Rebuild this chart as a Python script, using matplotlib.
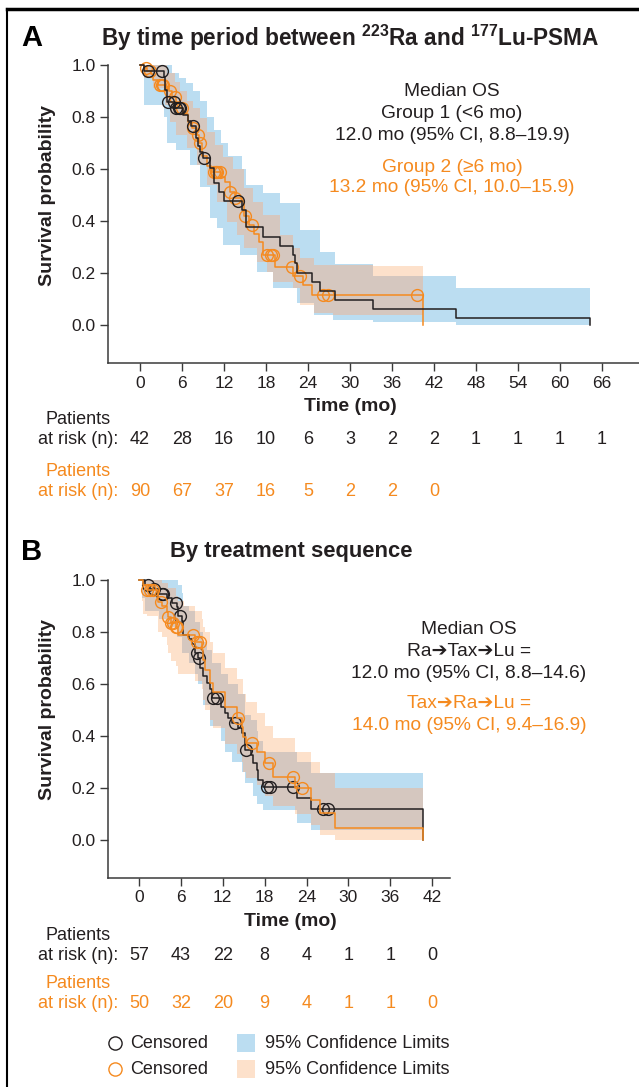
import numpy as np
import matplotlib
matplotlib.use('Agg')
import matplotlib.pyplot as plt
from matplotlib.lines import Line2D
from matplotlib.patches import Rectangle
import matplotlib.transforms as mtrans

plt.rcParams['font.family'] = ['Liberation Sans', 'DejaVu Sans']
plt.rcParams['mathtext.fontset'] = 'custom'
plt.rcParams['mathtext.rm'] = 'Liberation Sans'
plt.rcParams['mathtext.bf'] = 'Liberation Sans:bold'

BLACK = '#231F20'
ORANGE = '#F58A1F'
BLUE = '#BBDDF1'
PEACH = '#FDE1CB'
OVERLAP = '#D5C7BF'
AXC = '#3A3A3A'

# ---------------- Panel A data ----------------
a_ticks = [0, 6, 12, 18, 24, 30, 36, 42, 48, 54, 60, 66]
a_risk1 = [42, 28, 16, 10, 6, 3, 2, 2, 1, 1, 1, 1]
a_risk2 = [90, 67, 37, 16, 5, 2, 2, 0]

a1_t = [0.6, 3.4, 3.6, 3.8, 4.95, 6.1, 6.8, 7.3, 8.0, 8.3, 8.6, 9.0, 10.0, 10.5, 11.3, 12.0,
        14.5, 15.1, 17.5, 20.0, 21.9, 22.2, 22.4, 24.5, 25.7, 27.9, 33.3, 45.2, 64.3]
a1_s = [0.976, 0.952, 0.905, 0.857, 0.833, 0.808, 0.783, 0.767, 0.72, 0.69, 0.665, 0.641, 0.603,
        0.545, 0.513, 0.478, 0.442, 0.376, 0.340, 0.305, 0.269, 0.237, 0.199, 0.167, 0.131,
        0.096, 0.0615, 0.026, 0.0]
a1_cens = [1.2, 3.2, 4.05, 4.8, 5.1, 5.5, 5.7, 7.5, 9.1, 14.05]

a2_t = [0.5, 1.0, 1.5, 1.9, 2.5, 3.5, 4.1, 4.6, 5.2, 5.7, 6.2, 6.8, 7.4, 8.1, 8.4, 8.8, 9.5,
        10.2, 11.6, 12.1, 12.9, 13.5, 14.5, 14.8, 15.5, 16.3, 17.0, 17.6, 19.3, 21.8, 23.3,
        24.5, 40.4]
a2_s = [0.989, 0.978, 0.967, 0.944, 0.922, 0.911, 0.90, 0.878, 0.856, 0.833, 0.811, 0.78,
        0.756, 0.73, 0.70, 0.65, 0.61, 0.59, 0.57, 0.55, 0.51, 0.49, 0.475, 0.42, 0.385, 0.35,
        0.32, 0.27, 0.225, 0.19, 0.154, 0.115, 0.0]
a2_cens = [0.8, 1.4, 2.8, 3.1, 3.3, 4.3, 5.0, 5.95, 7.6, 8.3, 8.6, 10.5, 10.9, 11.05, 11.4,
           12.9, 13.6, 15.0, 15.95, 18.1, 18.7, 18.95, 21.7, 22.9, 26.1, 26.8, 39.6]

a1_ci_t = [0.5, 3.4, 3.8, 4.5, 5.2, 5.5, 6.5, 7.1, 7.5, 8.5, 8.6, 9.5, 10.0, 10.5, 10.95, 11.5,
           11.9, 12.5, 14.3, 14.5, 15.1, 16.7, 17.5, 19.0, 20.0, 22.4, 22.9, 24.8, 25.7, 27.6,
           27.9, 33.3, 45.2, 64.3]
a1_ci_lo = [0.846, 0.80, 0.70, 0.70, 0.673, 0.673, 0.673, 0.615, 0.615, 0.615, 0.532, 0.532,
            0.41, 0.41, 0.372, 0.372, 0.308, 0.308, 0.269, 0.269, 0.269, 0.205, 0.205, 0.141,
            0.141, 0.083, 0.083, 0.038, 0.038, 0.019, 0.019, 0.013, 0.0, 0.0]
a1_ci_hi = [1.0, 1.0, 1.0, 0.97, 0.97, 0.95, 0.93, 0.93, 0.90, 0.86, 0.86, 0.80, 0.80, 0.75,
            0.75, 0.70, 0.70, 0.65, 0.65, 0.60, 0.54, 0.54, 0.506, 0.506, 0.468, 0.468, 0.365,
            0.365, 0.282, 0.282, 0.233, 0.19, 0.141, 0.141]

a2_ci_t = [0.5, 1.9, 3.6, 3.8, 4.3, 5.0, 5.2, 5.7, 6.7, 7.6, 8.1, 8.6, 9.5, 10.7, 10.95, 11.9,
           12.4, 13.3, 13.8, 14.8, 16.2, 16.7, 17.6, 18.1, 19.0, 20.0, 21.9, 22.9, 24.8, 27.6,
           33.3, 40.4]
a2_ci_lo = [0.95, 0.91, 0.846, 0.846, 0.782, 0.782, 0.73, 0.73, 0.68, 0.68, 0.615, 0.615,
            0.538, 0.538, 0.474, 0.474, 0.397, 0.397, 0.346, 0.295, 0.295, 0.244, 0.244, 0.205,
            0.167, 0.167, 0.141, 0.077, 0.045, 0.038, 0.038, 0.038]
a2_ci_hi = [1.0, 1.0, 1.0, 0.97, 0.97, 0.936, 0.936, 0.90, 0.86, 0.833, 0.833, 0.795, 0.744,
            0.692, 0.692, 0.647, 0.647, 0.60, 0.60, 0.526, 0.474, 0.474, 0.423, 0.423, 0.423,
            0.346, 0.295, 0.256, 0.23, 0.23, 0.228, 0.228]

# ---------------- Panel B data ----------------
b_ticks = [0, 6, 12, 18, 24, 30, 36, 42]
b_risk1 = [57, 43, 22, 8, 4, 1, 1, 0]
b_risk2 = [50, 32, 20, 9, 4, 1, 1, 0]

b1_t = [0.9, 1.6, 2.8, 4.0, 4.7, 5.4, 5.6, 6.1, 6.35, 7.1, 7.55, 8.0, 8.5, 8.75, 9.2, 9.7,
        10.2, 10.4, 11.8, 12.3, 12.8, 13.3, 14.2, 14.7, 15.2, 16.1, 16.4, 16.9, 17.1, 17.8,
        22.6, 24.7, 40.7]
b1_s = [0.982, 0.965, 0.947, 0.93, 0.912, 0.895, 0.86, 0.842, 0.789, 0.772, 0.754, 0.72,
        0.70, 0.66, 0.63, 0.605, 0.58, 0.545, 0.513, 0.49, 0.47, 0.45, 0.43, 0.41, 0.345,
        0.325, 0.295, 0.27, 0.232, 0.205, 0.16, 0.118, 0.0]
b1_cens = [1.34, 2.15, 3.25, 3.49, 5.3, 5.87, 8.26, 8.64, 10.65, 11.22, 13.75, 15.28, 18.28,
           18.76, 22.0, 26.4, 27.1]

b2_t = [0.62, 1.1, 2.77, 3.25, 3.96, 4.2, 4.58, 5.3, 5.63, 8.0, 8.98, 9.2, 9.45, 10.17,
        10.65, 12.3, 14.0, 14.7, 14.9, 15.4, 16.86, 18.05, 19.2, 22.35, 24.7, 25.9, 28.1, 40.7]
b2_s = [0.981, 0.962, 0.917, 0.9, 0.878, 0.859, 0.836, 0.82, 0.788, 0.763, 0.731, 0.692,
        0.654, 0.603, 0.571, 0.513, 0.468, 0.436, 0.397, 0.372, 0.340, 0.295, 0.244, 0.199,
        0.154, 0.103, 0.045, 0.0]
b2_cens = [1.1, 1.58, 2.06, 3.15, 4.2, 4.58, 4.92, 5.3, 5.39, 7.69, 8.26, 8.74, 14.23, 16.24,
           18.68, 22.1, 23.3]

b1_ci_t = [0.5, 0.9, 2.8, 4.0, 5.4, 5.6, 6.1, 6.35, 7.1, 8.0, 8.5, 8.75, 9.2, 9.7, 10.2, 10.4,
           11.8, 12.3, 12.8, 13.3, 14.2, 14.7, 15.2, 16.1, 16.4, 16.9, 17.1, 17.8, 22.6, 24.7,
           40.7]
b1_ci_lo = [0.93, 0.88, 0.85, 0.82, 0.78, 0.78, 0.72, 0.72, 0.68, 0.64, 0.60, 0.60, 0.52,
            0.52, 0.44, 0.44, 0.38, 0.34, 0.34, 0.30, 0.30, 0.26, 0.22, 0.22, 0.17, 0.14, 0.14,
            0.115, 0.064, 0.038, 0.038]
b1_ci_hi = [1.0, 1.0, 1.0, 1.0, 1.0, 0.98, 0.95, 0.90, 0.88, 0.84, 0.84, 0.80, 0.76, 0.73,
            0.73, 0.68, 0.64, 0.64, 0.60, 0.60, 0.56, 0.56, 0.48, 0.46, 0.46, 0.42, 0.38, 0.34,
            0.30, 0.256, 0.256]

b2_ci_t = [0.5, 0.62, 1.1, 2.77, 3.25, 3.96, 4.2, 4.58, 5.3, 5.63, 6.5, 8.0, 8.98, 9.2, 9.45,
           10.17, 10.65, 12.3, 14.0, 14.7, 14.9, 15.4, 16.86, 18.05, 19.2, 22.35, 24.7, 25.9,
           28.1, 40.7]
b2_ci_lo = [0.92, 0.87, 0.86, 0.80, 0.78, 0.75, 0.72, 0.69, 0.67, 0.64, 0.64, 0.61, 0.58,
            0.54, 0.50, 0.46, 0.43, 0.37, 0.33, 0.30, 0.26, 0.24, 0.21, 0.17, 0.13, 0.10,
            0.058, 0.02, 0.0, 0.0]
b2_ci_hi = [1.0, 1.0, 1.0, 1.0, 0.99, 0.99, 0.97, 0.97, 0.94, 0.92, 0.90, 0.88, 0.85, 0.82,
            0.80, 0.76, 0.72, 0.66, 0.62, 0.62, 0.56, 0.53, 0.49, 0.44, 0.391, 0.34, 0.30,
            0.256, 0.199, 0.199]

# ---------------- helpers ----------------
W, H = 639, 1087
fig = plt.figure(figsize=(W / 100, H / 100), dpi=100)


def fy(y):
    return 1 - y / H


def step_at(tl, vl, x, before):
    tl = np.asarray(tl, float)
    vl = np.asarray(vl, float)
    idx = np.searchsorted(tl, x, side='right') - 1
    return np.where(idx >= 0, vl[np.clip(idx, 0, None)], before)


def band_vals(tl, vl, mids):
    v = step_at(tl, vl, mids, np.nan)
    v = np.where((mids >= tl[0]) & (mids < tl[-1]), v, np.nan)
    return v


def draw_bands(ax, b1, b2):
    grid = np.unique(np.concatenate([b1[0], b2[0]]))
    mids = (grid[:-1] + grid[1:]) / 2
    lo1, hi1 = band_vals(b1[0], b1[1], mids), band_vals(b1[0], b1[2], mids)
    lo2, hi2 = band_vals(b2[0], b2[1], mids), band_vals(b2[0], b2[2], mids)
    lo_o = np.maximum(lo1, lo2)
    hi_o = np.minimum(hi1, hi2)
    bad = ~(hi_o > lo_o)
    lo_o[bad] = np.nan
    hi_o[bad] = np.nan
    xs = np.repeat(grid, 2)[1:-1]
    for lo, hi, c in [(lo1, hi1, BLUE), (lo2, hi2, PEACH), (lo_o, hi_o, OVERLAP)]:
        ax.fill_between(xs, np.repeat(lo, 2), np.repeat(hi, 2), color=c, lw=0, zorder=1)


def draw_km(ax, tl, sl, cens, color, z):
    ax.step([0] + tl, [1.0] + sl, where='post', color=color, lw=1.1, zorder=z)
    cy = step_at(tl, sl, np.asarray(cens, float), 1.0)
    ax.plot(cens, cy, 'o', ms=8.5, mfc='none', mec=color, mew=1.0, zorder=z + 1)


def style_axes(ax, ticks, xlim):
    ax.set_xlim(*xlim)
    ax.set_ylim(-0.146, 1.019)
    ax.set_xticks(ticks)
    ax.set_yticks([0.0, 0.2, 0.4, 0.6, 0.8, 1.0])
    ax.set_yticklabels(['0.0', '0.2', '0.4', '0.6', '0.8', '1.0'])
    for sp in ['top', 'right']:
        ax.spines[sp].set_visible(False)
    for sp in ['left', 'bottom']:
        ax.spines[sp].set_color(AXC)
        ax.spines[sp].set_linewidth(1.1)
    ax.spines['left'].set_bounds(-0.146, 1.0)
    ax.tick_params(length=6, width=1.0, color=AXC, labelsize=12.5, labelcolor=BLACK, pad=3)
    ax.patch.set_alpha(0)


def risk_rows(ax, ticks, r1, r2, ys, labx):
    tr = mtrans.blended_transform_factory(ax.transData, fig.transFigure)
    for (r, c, yp, ya) in [(r1, BLACK, ys[0], ys[1]), (r2, ORANGE, ys[2], ys[3])]:
        fig.text(labx / W, fy(yp), 'Patients', ha='center', va='center', fontsize=13, color=c)
        fig.text(labx / W, fy(ya), 'at risk (n):', ha='center', va='center', fontsize=13, color=c)
        for t, n in zip(ticks, r):
            ax.text(t, fy(ya), str(n), transform=tr, ha='center', va='center', fontsize=13,
                    color=c, clip_on=False)


# ---------------- Panel A ----------------
axA = fig.add_axes([108 / W, fy(363), (W - 108) / W, (363 - 60) / H])
draw_bands(axA, (a1_ci_t, a1_ci_lo, a1_ci_hi), (a2_ci_t, a2_ci_lo, a2_ci_hi))
draw_km(axA, a2_t, a2_s, a2_cens, ORANGE, 3)
draw_km(axA, a1_t, a1_s, a1_cens, BLACK, 5)
style_axes(axA, a_ticks, ((108 - 140) / 7.0, (W - 140) / 7.0))

fig.text(350 / W, fy(407), 'Time (mo)', fontsize=14, fontweight='bold', color=BLACK,
         ha='center', va='center')
fig.text(47 / W, fy(195), 'Survival probability', fontsize=14, fontweight='bold', color=BLACK,
         ha='center', va='center', rotation=90)

fig.text(32 / W, fy(38), 'A', fontsize=21, fontweight='bold', ha='center', va='center')
fig.text(350 / W, fy(38), r'By time period between $^{\mathbf{223}}$Ra and $^{\mathbf{177}}$Lu-PSMA',
         fontsize=16.3, fontweight='bold', ha='center', va='center', color=BLACK)

cx = 452
for s, y, c in [('Median OS', 91, BLACK), ('Group 1 (<6 mo)', 113, BLACK),
                ('12.0 mo (95% CI, 8.8–19.9)', 135, BLACK),
                ('Group 2 (≥6 mo)', 167, ORANGE), ('13.2 mo (95% CI, 10.0–15.9)', 188, ORANGE)]:
    fig.text(cx / W, fy(y), s, ha='center', va='center', fontsize=13.8, color=c)

risk_rows(axA, a_ticks, a_risk1, a_risk2, (419, 440, 471, 492), 78)

# ---------------- Panel B ----------------
axB = fig.add_axes([108 / W, fy(878), (450 - 108) / W, (878 - 575) / H])
draw_bands(axB, (b1_ci_t, b1_ci_lo, b1_ci_hi), (b2_ci_t, b2_ci_lo, b2_ci_hi))
draw_km(axB, b1_t, b1_s, b1_cens, BLACK, 3)
draw_km(axB, b2_t, b2_s, b2_cens, ORANGE, 5)
style_axes(axB, b_ticks, ((108 - 139) / 6.98, (450 - 139) / 6.98))

fig.text(290 / W, fy(922), 'Time (mo)', fontsize=14, fontweight='bold', color=BLACK,
         ha='center', va='center')
fig.text(47 / W, fy(710), 'Survival probability', fontsize=14, fontweight='bold', color=BLACK,
         ha='center', va='center', rotation=90)

fig.text(32 / W, fy(552), 'B', fontsize=21, fontweight='bold', ha='center', va='center')
fig.text(291 / W, fy(552), 'By treatment sequence', fontsize=15.8, fontweight='bold',
         ha='center', va='center', color=BLACK)

cx = 469
for s, y, c in [('Median OS', 630, BLACK), ('Ra➔Tax➔Lu =', 651, BLACK),
                ('12.0 mo (95% CI, 8.8–14.6)', 673, BLACK),
                ('Tax➔Ra➔Lu =', 704, ORANGE), ('14.0 mo (95% CI, 9.4–16.9)', 725, ORANGE)]:
    fig.text(cx / W, fy(y), s, ha='center', va='center', fontsize=13.8, color=c)

risk_rows(axB, b_ticks, b_risk1, b_risk2, (935, 955, 984, 1004), 78)

# ---------------- Legend ----------------
for y, c, fc in [(1043, BLACK, BLUE), (1069, ORANGE, PEACH)]:
    fig.add_artist(Line2D([115 / W], [fy(y)], marker='o', ms=9.5, mfc='none', mec=c, mew=1.0,
                          transform=fig.transFigure))
    fig.text(130 / W, fy(y), 'Censored', ha='left', va='center', fontsize=13, color=BLACK)
    fig.add_artist(Rectangle((237 / W, fy(y + 9)), 18 / W, 18 / H, transform=fig.transFigure,
                             facecolor=fc, edgecolor='none'))
    fig.text(265 / W, fy(y), '95% Confidence Limits', ha='left', va='center', fontsize=13,
             color=BLACK)

# frame
fig.add_artist(Line2D([7 / W, 1], [fy(9), fy(9)], lw=2.5, color='black', transform=fig.transFigure))
fig.add_artist(Line2D([7 / W, 7 / W], [0, fy(9)], lw=1.5, color='black', transform=fig.transFigure))

fig.savefig('out.png', dpi=100)
